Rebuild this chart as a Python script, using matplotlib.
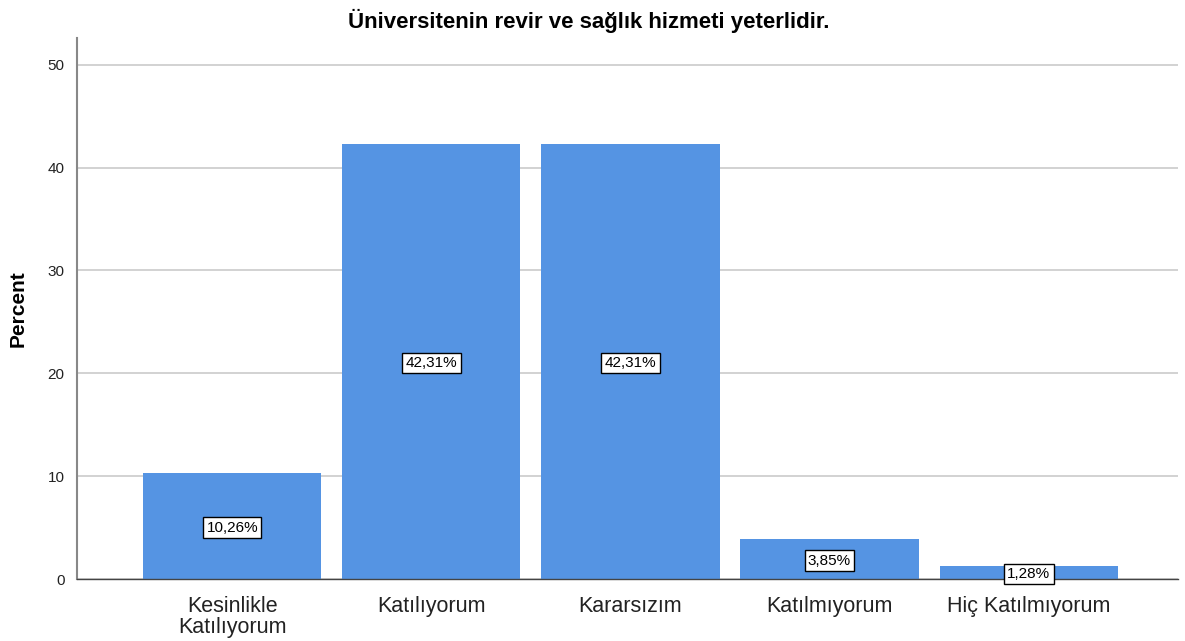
import matplotlib
matplotlib.use("Agg")
import matplotlib.pyplot as plt

categories = ["Kesinlikle\nKatılıyorum", "Katılıyorum", "Kararsızım", "Katılmıyorum", "Hiç Katılmıyorum"]
percent = [10.26, 42.31, 42.31, 3.85, 1.28]
labels = ["10,26%", "42,31%", "42,31%", "3,85%", "1,28%"]
yticks = [0, 10, 20, 30, 40, 50]

plt.rcParams['font.family'] = ['Liberation Sans', 'DejaVu Sans']

fig = plt.figure(figsize=(11.85, 6.41), dpi=100)
ax = fig.add_axes([0.065, 0.0967, 0.929, 0.844])

x = list(range(len(categories)))
ax.bar(x, percent, width=0.895, color="#5594e3", zorder=2)

for xi, v, lab in zip(x, percent, labels):
    ax.text(xi, v / 2, lab, ha="center", va="center_baseline", fontsize=11, zorder=3,
            bbox=dict(boxstyle="square,pad=0.22", fc="white", ec="black", lw=1))

ax.set_xlim(-0.78, 4.75)
ax.set_ylim(0, 52.6)
ax.set_yticks(yticks)
ax.set_xticks(x)
ax.set_xticklabels(categories, fontsize=15.5, color="#222222", linespacing=1.05)
ax.tick_params(axis="y", length=0, labelsize=11, pad=9, labelcolor="#222222")
ax.tick_params(axis="x", length=0, pad=12)
ax.yaxis.grid(True, color="#cfcfcf", lw=1.3, zorder=0)
ax.set_axisbelow(True)

for s in ["top", "right"]:
    ax.spines[s].set_visible(False)
ax.spines["left"].set_color("#888888")
ax.spines["left"].set_linewidth(1.5)
ax.spines["bottom"].set_color("#444444")
ax.spines["bottom"].set_linewidth(1)

ax.set_ylabel("Percent", fontsize=15, fontweight="bold", labelpad=14)
fig.text(0.497, 0.968, "Üniversitenin revir ve sağlık hizmeti yeterlidir.", ha="center", va="center",
         fontsize=16, fontweight="bold")

fig.savefig("out.png", dpi=100)
